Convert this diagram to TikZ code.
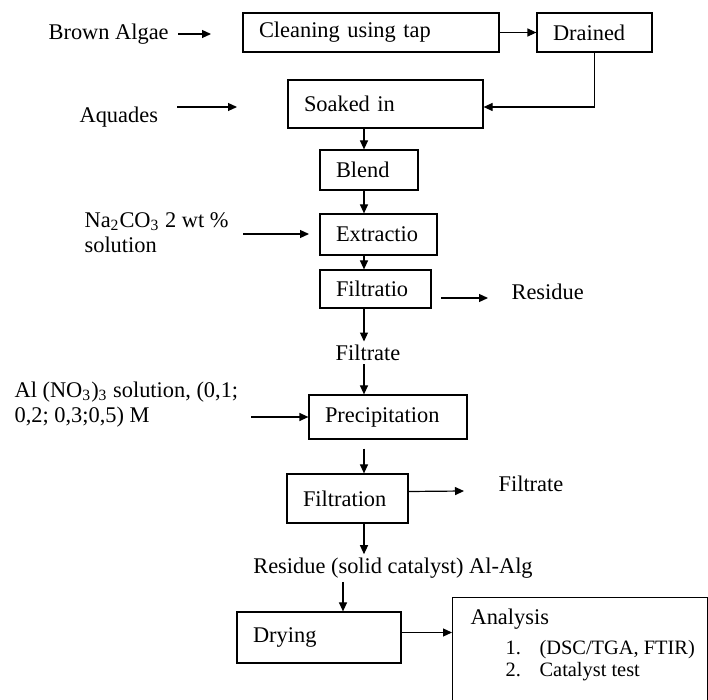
\documentclass[tikz,border=0pt]{standalone}
\usepackage{fontspec}
\setmainfont{Liberation Serif}
\usetikzlibrary{arrows.meta,positioning,calc}

\begin{document}
\begin{tikzpicture}[x=0.5pt,y=-0.5pt,every text node part/.style={align=left},text=black,
	font=\fontsize{11.2}{12.5}\selectfont, line width=0.6pt,
	>={Triangle[length=4.5pt,width=4pt]},
	stage/.style={draw, inner xsep=8pt, inner ysep=0pt},
	feed/.style={inner sep=0pt},
	mid/.style={inner sep=1.5pt}]

	\useasboundingbox (0,0) rectangle (708,700);

	% process boxes
	\node[stage, text width=112pt, minimum height=19.5pt] (clean) at (371,32.5) {Cleaning using tap};
	\node[stage, text width=41.5pt, minimum height=19.5pt] (drained) at (594.5,32.5) {Drained};
	\node[stage, text width=81.5pt, minimum height=24pt] (soak) at (385.5,104) {Soaked in};
	\node[stage, text width=33pt, minimum height=20pt] (blend) at (369,170) {Blend};
	\node[stage, text width=42.5pt, minimum height=20.5pt] (extr) at (378.5,234.5) {Extractio};
	\node[stage, text width=39.5pt, minimum height=19pt] (filt1) at (375.5,289) {Filtratio};
	\node[stage, text width=63pt, minimum height=22pt] (precip) at (388,417) {Precipitation};
	\node[stage, text width=44.5pt, minimum height=24.5pt] (filt2) at (347.5,498.5) {Filtration};
	\node[stage, text width=66pt, minimum height=25.5pt] (dry) at (319,637.5) {Drying};
	\node[draw, anchor=north west, minimum width=127.5pt, minimum height=75pt] (ana) at (452,597) {};

	% inputs and outputs
	\node[feed, anchor=west] (algae) at (48,34) {Brown Algae};
	\node[feed, anchor=west] (aqua) at (79,117) {Aquades};
	\node[feed, anchor=north west] (soda) at (84,212) {Na\textsubscript{2}CO\textsubscript{3} 2 wt \%\\solution};
	\node[feed, anchor=west] (resid1) at (511,292) {Residue};
	\node[mid] (filtr1) at (368,353) {Filtrate};
	\node[feed, anchor=north west] (alum) at (14,381) {Al (NO\textsubscript{3})\textsubscript{3} solution, (0,1;\\0,2; 0,3;0,5) M};
	\node[feed, anchor=west] (filtr2) at (498,484) {Filtrate};
	\node[mid] (resid) at (393,568) {Residue (solid catalyst) Al-Alg};
	\node[feed, anchor=north west] (anatext) at (470,608) {Analysis\\[2.5pt]
		\fontsize{10.2}{11}\selectfont\hspace*{17.5pt}\makebox[17pt][l]{1.}(DSC/TGA, FTIR)\\[-1.5pt]
		\fontsize{10.2}{11}\selectfont\hspace*{17.5pt}\makebox[17pt][l]{2.}Catalyst test};

	% free ends
	\coordinate (spine) at (364,0);
	\coordinate (spine2) at (343,0);
	\coordinate (algaeIn) at (211,34);
	\coordinate (aquaOut) at (177,107);
	\coordinate (aquaIn) at (237,107);
	\coordinate (sodaOut) at (243,234);
	\coordinate (sodaIn) at (309,234);
	\coordinate (resid1Out) at (441,298);
	\coordinate (resid1In) at (488,298);
	\coordinate (alumOut) at (251,417);
	\coordinate (filtr2In) at (464,491);

	% connections
	\draw[->] ([xshift=4.5pt]algae.east) -- (algaeIn);
	\draw[->] (clean.east) -- (drained.west);
	\draw[->] (drained.south) |- ([yshift=-1.5pt]soak.east);
	\draw[->] (aquaOut) -- (aquaIn);
	\draw[->] (soak.south -| spine) -- (blend.north -| spine);
	\draw[->] (blend.south -| spine) -- (extr.north -| spine);
	\draw[->] (sodaOut) -- (sodaIn);
	\draw[->] (extr.south -| spine) -- (filt1.north -| spine);
	\draw[->] (resid1Out) -- (resid1In);
	\draw[->] (filt1.south -| spine) -- (filtr1.north -| spine);
	\draw[->] (filtr1.south -| spine) -- (precip.north -| spine);
	\draw[->] (alumOut) -- (precip.west);
	\draw[->] ([yshift=-4.5pt]precip.south -| spine) -- (filt2.north -| spine);
	\draw[->] ([yshift=3.5pt]filt2.east) -- (filtr2In);
	\draw[->] (filt2.south -| spine) -- (resid.north -| spine);
	\draw[->] (resid.south -| spine2) -- (dry.north -| spine2);
	\draw[->] ([yshift=2.5pt]dry.east) -- ([yshift=2.5pt]dry.east -| ana.west);
\end{tikzpicture}
\end{document}
